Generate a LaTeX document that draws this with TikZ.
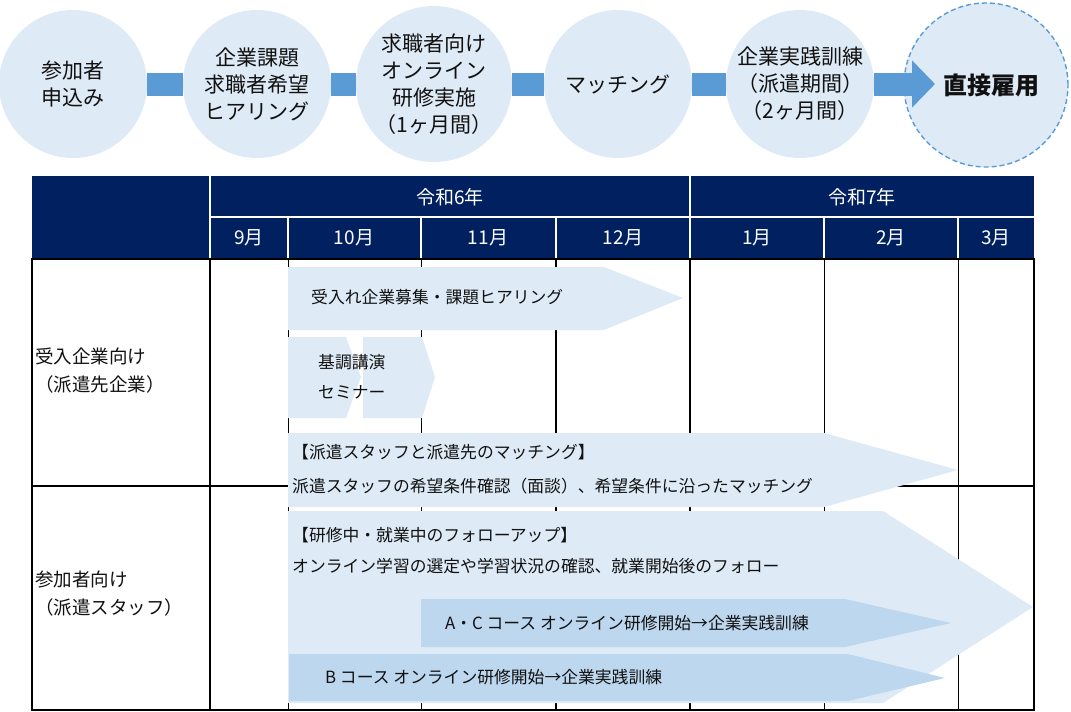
\documentclass[tikz,border=0pt]{standalone}
\usepackage{fontspec}
\setmainfont{Noto Sans CJK JP}
\usepackage{xcolor}
\definecolor{circleFill}{HTML}{DEEAF6}
\definecolor{barBlue}{HTML}{5B9BD5}
\definecolor{headerNavy}{HTML}{002060}
\definecolor{phaseLight}{HTML}{DEEBF7}
\definecolor{phaseMid}{HTML}{BDD7EE}
\definecolor{darkText}{HTML}{111111}
\usepackage{tikz}
\usetikzlibrary{
    arrows.meta,
    positioning
}
\tikzset{
    % Circles of the upper flow
    step circle/.style={
        circle,
        fill=circleFill,
        minimum size=148pt,
        inner sep=0pt,
        align=center,
        text=darkText,
        font=\fontsize{21}{27}\selectfont,
    },
    % Last circle - dashed outline, bold text
    goal circle/.style={
        step circle,
        minimum size=164pt,
        draw=barBlue,
        line width=1.4pt,
        dash pattern=on 5pt off 3pt,
        font=\fontsize{24}{27}\selectfont\bfseries,
    },
    % Thick bar between circles
    flow bar/.style={
        draw=barBlue,
        line width=23pt,
    },
    % Header texts of the table
    head label/.style={
        text=white,
        font=\fontsize{19}{22}\selectfont,
    },
    head line/.style={
        draw=white,
        line width=1.5pt,
    },
    % Row labels on the left
    row label/.style={
        anchor=west,
        align=left,
        inner sep=0pt,
        text=darkText,
        font=\fontsize{18.5}{28}\selectfont,
    },
    % Texts on the phase arrows
    phase text/.style={
        anchor=west,
        align=left,
        inner sep=0pt,
        text=darkText,
        font=\fontsize{16.8}{32}\selectfont,
    },
    grid thin/.style={
        draw=black,
        line width=1pt,
    },
    grid thick/.style={
        draw=black,
        line width=1.8pt,
    },
}

\begin{document}
\begin{tikzpicture}[x=1pt, y=-1pt]
    \useasboundingbox (0,0) rectangle (1071,712);

    % upper flow
    \node (apply) [step circle] at (73,84) {参加者\\申込み};
    \node (hearing) [step circle] at (257,84) {企業課題\\求職者希望\\ヒアリング};
    \node (online) [step circle, minimum size=156pt] at (434,84) {求職者向け\\オンライン\\研修実施\\（1ヶ月間）};
    \node (matching) [step circle] at (618,84) {マッチング};
    \node (practice) [step circle] at (800,84) {企業実践訓練\\（派遣期間）\\（2ヶ月間）};
    \node (hire) [goal circle] at (986,85) {\hspace{10pt}直接雇用};
    \coordinate (hireTip) at (935,84);

    \draw [flow bar] (apply) -- (hearing);
    \draw [flow bar] (hearing) -- (online);
    \draw [flow bar] (online) -- (matching);
    \draw [flow bar] (matching) -- (practice);
    \draw [flow bar, -{Triangle[length=23pt, width=46pt]}] (practice) -- (hireTip);

    % table header
    \fill [headerNavy] (32,176) rectangle (1034,259);
    \draw [head line] (210,176) -- (210,259);
    \draw [head line] (690,176) -- (690,259);
    \draw [head line] (210,217) -- (1034,217);
    \foreach \hx in {288,421,556,824,958}
        \draw [head line] (\hx,217) -- (\hx,259);
    \node (year6) [head label] at (450,197) {令和6年};
    \node (year7) [head label] at (862,197) {令和7年};
    \foreach \mx/\mnum in {249/9,354/10,488/11,623/12,757/1,891/2,996/3}
        \node (month\mnum) [head label] at (\mx,238) {\mnum 月};

    % table grid
    \foreach \gx in {288,421,824,958}
        \draw [grid thin] (\gx,259) -- (\gx,710);
    \foreach \gx in {210,556,690}
        \draw [grid thick] (\gx,259) -- (\gx,710);
    \draw [grid thick] (32,486) -- (1034,486);
    \draw [grid thick] (32,259) rectangle (1034,710);

    \node (hostLabel) [row label] at (35,371) {受入企業向け\\（派遣先企業）};
    \node (staffLabel) [row label] at (35,594) {参加者向け\\（派遣スタッフ）};

    % phase arrows
    \fill [phaseLight] (288,267) -- (604,267) -- (683,298) -- (604,330) -- (288,330) -- cycle;
    \fill [phaseLight] (288,337) -- (346,337) -- (361,377) -- (346,418) -- (288,418) -- cycle;
    \fill [phaseLight] (363,337) -- (422,337) -- (435,377) -- (422,418) -- (363,418) -- cycle;
    \fill [phaseLight] (288,433) -- (824,433) -- (958,470) -- (824,507) -- (288,507) -- cycle;
    \fill [phaseLight] (288,511) -- (883,511) -- (1033,607) -- (883,703) -- (288,703) -- cycle;
    \fill [phaseMid] (421,599) -- (845,599) -- (951,623) -- (845,647) -- (421,647) -- cycle;
    \fill [phaseMid] (289,654) -- (848,654) -- (945,678) -- (848,701) -- (289,701) -- cycle;

    \node (recruitText) [phase text] at (311,297) {受入れ企業募集・課題ヒアリング};
    \node (seminarText) [phase text, font=\fontsize{16.8}{30}\selectfont] at (318,377) {基調講演\\セミナー};
    \node (matchText) [phase text, font=\fontsize{16.8}{34}\selectfont] at (292,469) {【派遣スタッフと派遣先のマッチング】\\派遣スタッフの希望条件確認（面談）、希望条件に沿ったマッチング};
    \node (followText) [phase text, font=\fontsize{16.8}{31}\selectfont] at (292,551) {【研修中・就業中のフォローアップ】\\オンライン学習の選定や学習状況の確認、就業開始後のフォロー};
    \node (courseAC) [phase text] at (445,623) {A・C コース オンライン研修開始→企業実践訓練};
    \node (courseB) [phase text] at (325,677) {B コース オンライン研修開始→企業実践訓練};
\end{tikzpicture}
\end{document}
